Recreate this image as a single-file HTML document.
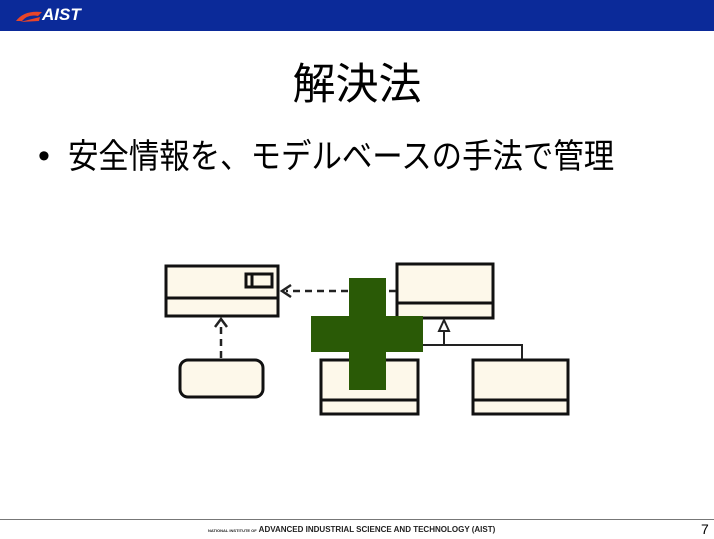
<!DOCTYPE html>
<html><head><meta charset="utf-8"><style>
html,body{margin:0;padding:0}
body{width:714px;height:539px;position:relative;background:#fff;overflow:hidden;font-family:"Liberation Sans","Noto Sans CJK JP",sans-serif}
.bar{position:absolute;left:0;top:0;width:714px;height:31px;background:#0b2a99}
.logo{position:absolute;left:42px;top:5px;color:#fff;font-weight:bold;font-style:italic;font-size:17px}
.title{position:absolute;left:0;width:714px;top:60px;text-align:center;font-size:43px;line-height:50px;color:#000}
.dot{position:absolute;left:38px;top:136px;font-size:34px;line-height:40px}
.bullet{position:absolute;left:68px;top:137px;font-size:34px;line-height:40px;white-space:nowrap;color:#000;transform:scaleX(0.895);transform-origin:0 0}
.fline{position:absolute;left:0;top:519px;width:714px;height:1px;background:#777}
.foot{position:absolute;left:208px;top:525px;font-size:8px;font-weight:bold;color:#222;white-space:nowrap}
.pg{position:absolute;left:701px;top:521px;font-size:14px;color:#000}
</style></head><body>
<div class="bar"></div>
<svg style="position:absolute;left:14px;top:8px" width="30" height="16"><path d="M2 13 Q10 2 28 4 L24 8 Q14 6 8 13 Z" fill="#e8452a"/><path d="M6 14 L26 9 L25 13 Z" fill="#e8452a"/></svg>
<div class="logo">AIST</div>
<div class="title">解決法</div>
<div class="dot">•</div>
<div class="bullet">安全情報を、モデルベースの手法で管理</div>
<svg style="position:absolute;left:0;top:0" width="714" height="539">
<g stroke="#111" stroke-width="3" fill="#fdf8ea">
<rect x="166" y="266" width="112" height="50"/>
<line x1="166" y1="298" x2="278" y2="298"/>
<rect x="246" y="274" width="26" height="13" fill="#fdf8ea"/>
<line x1="252" y1="274" x2="252" y2="287"/>
<rect x="397" y="264" width="96" height="54"/>
<line x1="397" y1="303" x2="493" y2="303"/>
<rect x="180" y="360" width="83" height="37" rx="8"/>
<rect x="321" y="360" width="97" height="54"/>
<line x1="321" y1="400" x2="418" y2="400"/>
<rect x="473" y="360" width="95" height="54"/>
<line x1="473" y1="400" x2="568" y2="400"/>
</g>
<g stroke="#222" stroke-width="2.5" fill="none">
<line x1="396" y1="291" x2="286" y2="291" stroke-dasharray="7,5"/>
<polyline points="291,285 282,291 291,297"/>
<line x1="221" y1="358" x2="221" y2="324" stroke-dasharray="7,5"/>
<polyline points="215,327 221,319 227,327"/>
</g>
<g stroke="#222" stroke-width="2" fill="none">
<line x1="444" y1="331" x2="444" y2="345"/>
<polyline points="400,345 522,345 522,359"/>
<polygon points="444,320 439,331 449,331" fill="#fff"/>
</g>
<g fill="#2a5a06">
<rect x="349" y="278" width="37" height="112"/>
<rect x="311" y="316" width="112" height="36"/>
</g>
</svg>
<div class="fline"></div>
<div class="foot"><span style="font-size:4px">NATIONAL INSTITUTE OF</span> ADVANCED INDUSTRIAL SCIENCE AND TECHNOLOGY (AIST)</div>
<div class="pg">7</div>
</body></html>
